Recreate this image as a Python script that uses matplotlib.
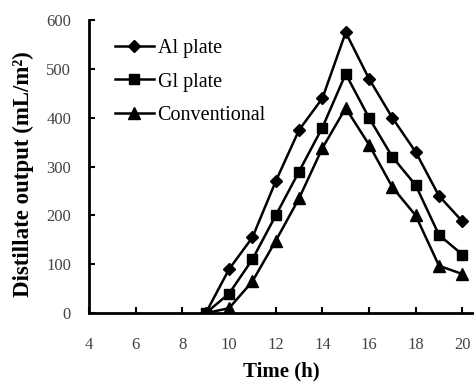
import matplotlib
matplotlib.use("Agg")
import matplotlib.pyplot as plt

hours = [9, 10, 11, 12, 13, 14, 15, 16, 17, 18, 19, 20]
al_plate = [0, 90, 155, 270, 375, 440, 575, 480, 400, 330, 240, 188]
gl_plate = [0, 40, 110, 200, 290, 380, 490, 400, 320, 262, 160, 120]
conventional = [0, 10, 65, 148, 235, 338, 420, 345, 258, 200, 97, 80]
x_ticks = [4, 6, 8, 10, 12, 14, 16, 18, 20]
y_ticks = [0, 100, 200, 300, 400, 500, 600]

plt.rcParams['font.family'] = ['Liberation Serif', 'DejaVu Serif']

fig = plt.figure(figsize=(4.74, 3.88), dpi=100)
ax = fig.add_axes([0.188, 0.193, 0.812, 0.755])

ax.plot(hours, al_plate, '-D', color='black', lw=1.8, ms=6.5, label='Al plate')
ax.plot(hours, gl_plate, '-s', color='black', lw=1.8, ms=7, label='Gl plate')
ax.plot(hours, conventional, '-^', color='black', lw=1.8, ms=8, label='Conventional')

ax.set_xlim(4, 20.5)
ax.set_ylim(0, 600)
ax.set_xticks(x_ticks)
ax.set_yticks(y_ticks)
ax.spines['top'].set_visible(False)
ax.spines['right'].set_visible(False)
for s in ['left', 'bottom']:
    ax.spines[s].set_linewidth(2)
ax.spines['left'].set_bounds(0, 600)
ax.tick_params(direction='in', length=4, width=1.5, labelsize=12, labelcolor='#444444')
ax.tick_params(axis='x', pad=17)
ax.tick_params(axis='y', pad=13)

ax.set_xlabel('Time (h)', fontsize=15, fontweight='bold', labelpad=6)
ax.set_ylabel('Distillate output (mL/m²)', fontsize=16.5, fontweight='bold')
ax.yaxis.set_label_coords(-0.143, 0.475)

leg = ax.legend(loc='upper left', bbox_to_anchor=(0.068, 0.935), frameon=False, fontsize=14.5,
                handlelength=1.9, handletextpad=0.2, labelspacing=0.7,
                borderpad=0, borderaxespad=0)

fig.savefig('out.png', dpi=100)
